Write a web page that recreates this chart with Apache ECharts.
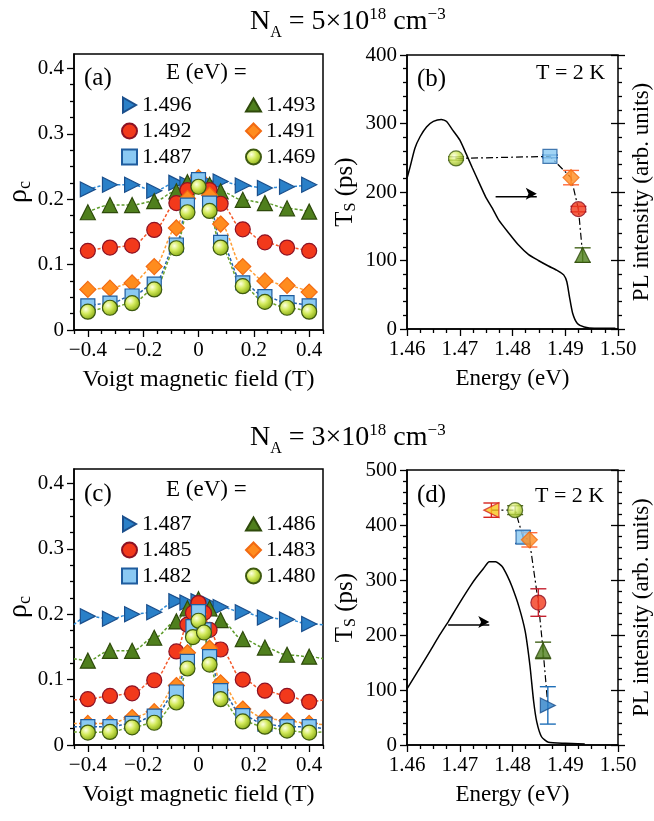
<!DOCTYPE html>
<html>
<head>
<meta charset="utf-8">
<script src="https://cdn.jsdelivr.net/npm/echarts@6/dist/echarts.min.js"></script>
<style>
  html, body { margin: 0; padding: 0; background: #fff; }
  #chart { width: 654px; height: 821px; }
</style>
</head>
<body>
<div id="chart"></div>
<script>
var FONT = 'Liberation Serif';

// ---- panel (a): rho_c vs Voigt field, N_A = 5e18 ----
var fieldA = [-0.4, -0.32, -0.24, -0.16, -0.08, -0.04, 0, 0.04, 0.08, 0.16, 0.24, 0.32, 0.4];
var namesA = ['1.496', '1.493', '1.492', '1.491', '1.487', '1.469'];
var rhoA_1496 = [0.215, 0.222, 0.222, 0.213, 0.225, 0.223, 0.225, 0.224, 0.227, 0.221, 0.217, 0.219, 0.222];
var rhoA_1493 = [0.180, 0.191, 0.191, 0.197, 0.212, 0.226, 0.228, 0.222, 0.212, 0.199, 0.194, 0.186, 0.181];
var rhoA_1492 = [0.121, 0.126, 0.129, 0.153, 0.194, 0.214, 0.220, 0.214, 0.193, 0.154, 0.134, 0.126, 0.121];
var rhoA_1491 = [0.062, 0.064, 0.072, 0.097, 0.156, 0.201, 0.233, 0.206, 0.162, 0.097, 0.075, 0.068, 0.058];
var rhoA_1487 = [0.037, 0.041, 0.052, 0.070, 0.130, 0.191, 0.230, 0.194, 0.134, 0.072, 0.051, 0.042, 0.037];
var rhoA_1469 = [0.028, 0.034, 0.041, 0.062, 0.125, 0.180, 0.219, 0.182, 0.126, 0.067, 0.043, 0.034, 0.028];

// ---- panel (c): rho_c vs Voigt field, N_A = 3e18 ----
var fieldC = [-0.4, -0.32, -0.24, -0.16, -0.08, -0.04, -0.02, 0, 0.02, 0.04, 0.08, 0.16, 0.24, 0.32, 0.4];
var namesC = ['1.487', '1.486', '1.485', '1.483', '1.482', '1.480'];
var rhoC_1487 = [0.197, 0.193, 0.200, 0.203, 0.220, 0.218, null, 0.220, null, 0.216, 0.211, 0.203, 0.195, 0.192, 0.185];
var rhoC_1486 = [0.129, 0.144, 0.144, 0.164, 0.189, 0.209, null, 0.223, null, 0.209, 0.191, 0.162, 0.149, 0.138, 0.135];
var rhoC_1485 = [0.070, 0.075, 0.079, 0.099, 0.143, 0.184, 0.202, 0.217, 0.202, 0.176, 0.146, 0.100, 0.083, 0.075, 0.066];
var rhoC_1483 = [0.033, 0.033, 0.042, 0.051, 0.091, 0.141, null, 0.200, null, 0.148, 0.095, 0.055, 0.041, 0.037, 0.033];
var rhoC_1482 = [0.028, 0.028, 0.033, 0.044, 0.081, 0.128, 0.181, 0.204, 0.176, 0.135, 0.083, 0.045, 0.032, 0.028, 0.028];
var rhoC_1480 = [0.019, 0.020, 0.027, 0.034, 0.065, 0.117, 0.165, 0.190, 0.172, 0.123, 0.070, 0.036, 0.028, 0.022, 0.019];
// fit curves continue to the frame edges in (c)
var fitEdgeC = [-0.45, 0.45];
var fitLeftC = [0.184, 0.132, 0.069, 0.033, 0.028, 0.020];
var fitRightC = [0.184, 0.132, 0.069, 0.031, 0.025, 0.020];

// ---- panel (b): spin time vs energy + PL ----
var energyB = [1.4693, 1.4871, 1.4911, 1.4925, 1.4933];
var tsB = [249, 252, 221, 175, 108];
var errB = [2.5, 2, 10.5, 4, 10.5];
var markB = ['ball', 'sq', 'diam', 'circ', 'tri'];
var plEnergyB = [1.46, 1.4606, 1.4615, 1.4625, 1.4637, 1.465, 1.4665, 1.4675, 1.4687, 1.47, 1.4712, 1.4724, 1.4737, 1.4749,
  1.4762, 1.4774, 1.4793, 1.4811, 1.483, 1.4849, 1.4868, 1.4886, 1.4897, 1.4903, 1.4908, 1.4914, 1.4923, 1.4936, 1.4955, 1.4995];
var plIntB = [220, 237, 264, 281, 295, 303, 306, 303, 290, 276, 256, 235, 213, 193,
  176, 159, 140, 123, 109, 100, 92, 85, 79, 69, 47, 23, 8, 3, 1, 1];

// ---- panel (d) ----
var energyD = [1.476, 1.4805, 1.482, 1.4832, 1.4849, 1.4858, 1.4867];
var tsD = [427, 427, 378, 373, 259, 172, 72];
var errD = [13, 8, 11.5, 13, 25, 15, 34];
var markD = ['ltri', 'ball', 'sq', 'diam', 'circ', 'tri', 'rtri'];
var plEnergyD = [1.46, 1.4625, 1.4644, 1.466, 1.4678, 1.4692, 1.4706, 1.472, 1.4731, 1.4745, 1.4756, 1.4768, 1.478, 1.479,
  1.4799, 1.4812, 1.4824, 1.4833, 1.484, 1.4846, 1.4855, 1.4868, 1.49, 1.4937];
var plIntD = [102, 141, 171, 197, 224, 246, 268, 289, 304, 321, 333, 333, 325, 308,
  288, 252, 207, 145, 80, 42, 15, 5, 3, 2];

// ---- ticks ----
var fieldTicks = [-0.4, -0.2, 0, 0.2, 0.4];
var fieldMinor = [-0.45, -0.35, -0.3, -0.25, -0.15, -0.1, -0.05, 0.05, 0.1, 0.15, 0.25, 0.3, 0.35, 0.45];
var rhoTicks = [0, 0.1, 0.2, 0.3, 0.4];
var rhoMinor = [0.025, 0.05, 0.075, 0.125, 0.15, 0.175, 0.225, 0.25, 0.275, 0.325, 0.35, 0.375];
var energyTicks = [1.46, 1.47, 1.48, 1.49, 1.50];
var energyMinor = [1.4625, 1.465, 1.4675, 1.4725, 1.475, 1.4775, 1.4825, 1.485, 1.4875, 1.4925, 1.495, 1.4975];
var tsTicksB = [0, 100, 200, 300, 400];
var tsTicksD = [0, 100, 200, 300, 400, 500];
var tsMinorB = [20, 40, 60, 80, 120, 140, 160, 180, 220, 240, 260, 280, 320, 340, 360, 380];
var tsMinorD = tsMinorB.concat([420, 440, 460, 480]);

// marker styles
var ball = {type: 'radial', x: 0.38, y: 0.35, r: 0.65, colorStops: [
  {offset: 0, color: '#fdffe2'}, {offset: 0.45, color: '#d3ea5c'}, {offset: 1, color: '#8aac16'}]};
var MARK = {
  rtri: {symbol: 'triangle', rot: -90, size: 15, fill: '#2a80c8', edge: '#1b4f8c', fit: '#2d8ad6', err: '#1f6fb8'},
  tri:  {symbol: 'triangle', rot: 0, size: 15, fill: '#4f7f1d', edge: '#2e4a0b', fit: '#5e9c2c', err: '#43631a'},
  circ: {symbol: 'circle', rot: 0, size: 15, fill: '#f2391b', edge: '#8c1224', fit: '#f4582a', err: '#c4202e'},
  diam: {symbol: 'diamond', rot: 0, size: 16, fill: '#ff8c1e', edge: '#f26a12', fit: '#ff9d34', err: '#ff6a3a'},
  sq:   {symbol: 'rect', rot: 0, size: 14, fill: '#8ac9f3', edge: '#1f5c9e', fit: '#2262ae', err: '#2262ae'},
  ball: {symbol: 'circle', rot: 0, size: 15, fill: ball, edge: '#3e5a10', fit: '#6ea42c', err: '#4a6418'},
  ltri: {symbol: 'triangle', rot: 90, size: 15, fill: '#f7c51d', edge: '#d6231f', err: '#d6231f'}
};
var marksAC = ['rtri', 'tri', 'circ', 'diam', 'sq', 'ball'];
var legendIcon = {
  rtri: 'path://M0,0L13,7.5L0,15Z', tri: 'path://M0,13L7.5,0L15,13Z', circ: 'circle',
  diam: 'diamond', sq: 'rect', ball: 'circle'
};

// ---- axes ----
var xAxes = [], yAxes = [];
function ax(gi, range, pos, ticks, len, inside, fmt) {
  var a = {
    type: 'value', gridIndex: gi, min: range[0], max: range[1], position: pos,
    splitLine: {show: false},
    axisLine: {show: !!fmt, onZero: false, lineStyle: {color: '#000', width: 1.5}},
    axisTick: {show: true, customValues: ticks, length: len, inside: !!inside, lineStyle: {color: '#000', width: 1.3}},
    axisLabel: {show: false}
  };
  if (fmt) {
    a.axisLabel = {show: true, customValues: ticks, formatter: fmt, margin: 10,
      color: '#000', fontFamily: FONT, fontSize: 21};
  }
  return a;
}
function nameStyle(size) {
  return {fontFamily: FONT, fontSize: size, color: '#000'};
}
var fmtField = function (v) { return v === 0 ? '0' : (v < 0 ? '\u2212' : '') + Math.abs(v).toFixed(1); };
var fmtRho = function (v) { return v === 0 ? '0' : v.toFixed(1); };
var fmtE = function (v) { return v.toFixed(2); };
var fmtTs = function (v) { return String(Math.round(v)); };

var rhoName = {
  name: '{r|\u03c1}{c|c}', nameLocation: 'middle', nameGap: 40,
  nameTextStyle: {rich: {
    r: {fontFamily: FONT, fontSize: 28, color: '#000', lineHeight: 30},
    c: {fontFamily: FONT, fontSize: 18, color: '#000', lineHeight: 18, verticalAlign: 'bottom', padding: [14, 0, 0, 0]}
  }}
};
var tsName = {
  name: '{t|T}{s|S}{t| (ps)}', nameLocation: 'middle', nameGap: 48,
  nameTextStyle: {rich: {
    t: {fontFamily: FONT, fontSize: 25, color: '#000', lineHeight: 28},
    s: {fontFamily: FONT, fontSize: 16, color: '#000', lineHeight: 16, verticalAlign: 'bottom', padding: [17, 0, 0, 0]}
  }}
};

// build axes for one rho panel
function rhoAxes(gi) {
  var xi = xAxes.length;
  xAxes.push(Object.assign(ax(gi, [-0.45, 0.45], 'bottom', fieldTicks, 7, false, fmtField),
    {name: 'Voigt magnetic field (T)', nameLocation: 'middle', nameGap: 38, nameTextStyle: nameStyle(24)}));
  xAxes.push(ax(gi, [-0.45, 0.45], 'bottom', fieldMinor, 4));
  var yi = yAxes.length;
  yAxes.push(Object.assign(ax(gi, [0, 0.422], 'left', rhoTicks, 7, false, fmtRho), rhoName));
  yAxes.push(ax(gi, [0, 0.422], 'left', rhoMinor, 4));
  return [xi, yi];
}
function tsAxes(gi, tmax, ticks, minor) {
  var xi = xAxes.length;
  xAxes.push(Object.assign(ax(gi, [1.46, 1.50], 'bottom', energyTicks, 7, false, fmtE),
    {name: 'Energy (eV)', nameLocation: 'middle', nameGap: 38, nameTextStyle: nameStyle(23)}));
  xAxes.push(ax(gi, [1.46, 1.50], 'bottom', energyMinor, 4));
  var yi = yAxes.length;
  yAxes.push(Object.assign(ax(gi, [0, tmax], 'left', ticks, 7, false, fmtTs), tsName));
  yAxes.push(ax(gi, [0, tmax], 'left', minor, 4));
  var yr = yAxes.length;
  yAxes.push(Object.assign(ax(gi, [0, tmax], 'right', ticks, 7, false), {
    name: 'PL intensity (arb. units)', nameLocation: 'middle', nameGap: 12, nameRotate: 90,
    nameTextStyle: nameStyle(23)}));
  yAxes.push(ax(gi, [0, tmax], 'right', minor, 4));
  yAxes.push(ax(gi, [0, tmax], 'right', ticks, 7, true));
  return [xi, yi, yr];
}

var aIdx = rhoAxes(0);
var bIdx = tsAxes(1, 400, tsTicksB, tsMinorB);
var cIdx = rhoAxes(2);
var dIdx = tsAxes(3, 500, tsTicksD, tsMinorD);

// ---- series ----
var series = [];
function rhoPanel(prefix, field, vals, idx, edges) {
  vals.forEach(function (arr, k) {
    var m = MARK[marksAC[k]];
    var pts = [];
    field.forEach(function (x, i) { if (arr[i] !== null) pts.push([x, arr[i]]); });
    var fit = pts.slice();
    if (edges) { fit.unshift([fitEdgeC[0], edges[0][k]]); fit.push([fitEdgeC[1], edges[1][k]]); }
    series.push({
      type: 'line', name: 'fit' + prefix + k, xAxisIndex: idx[0], yAxisIndex: idx[1],
      data: fit, smooth: 0.35, smoothMonotone: 'x', symbol: 'none', silent: true, z: 1,
      lineStyle: {color: m.fit, width: 1.5, type: [3, 2]}
    });
  });
  vals.forEach(function (arr, k) {
    var m = MARK[marksAC[k]];
    var pts = [];
    field.forEach(function (x, i) { if (arr[i] !== null) pts.push([x, arr[i]]); });
    series.push({
      type: 'scatter', name: prefix + (prefix === 'a' ? namesA[k] : namesC[k]),
      xAxisIndex: idx[0], yAxisIndex: idx[1], data: pts, z: 3,
      symbol: m.symbol, symbolRotate: m.rot, symbolSize: m.size,
      itemStyle: {color: m.fill, borderColor: m.edge, borderWidth: 1.2, opacity: 1}
    });
  });
}
rhoPanel('a', fieldA, [rhoA_1496, rhoA_1493, rhoA_1492, rhoA_1491, rhoA_1487, rhoA_1469], aIdx, null);
rhoPanel('c', fieldC, [rhoC_1487, rhoC_1486, rhoC_1485, rhoC_1483, rhoC_1482, rhoC_1480], cIdx, [fitLeftC, fitRightC]);

function errRender(params, api) {
  var x = api.value(0);
  var a = api.coord([x, api.value(1)]), b = api.coord([x, api.value(2)]);
  var w = 8, st = {stroke: api.visual('color'), lineWidth: 1.4, fill: null};
  return {type: 'group', children: [
    {type: 'line', shape: {x1: a[0], y1: a[1], x2: b[0], y2: b[1]}, style: st},
    {type: 'line', shape: {x1: a[0] - w, y1: a[1], x2: a[0] + w, y2: a[1]}, style: st},
    {type: 'line', shape: {x1: b[0] - w, y1: b[1], x2: b[0] + w, y2: b[1]}, style: st}
  ]};
}
function tsPanel(energy, ts, err, marks, plE, plI, idx, arrow) {
  series.push({
    type: 'line', xAxisIndex: idx[0], yAxisIndex: idx[2], data: plE.map(function (e, i) { return [e, plI[i]]; }),
    symbol: 'none', silent: true, z: 1, smooth: 0.2, lineStyle: {color: '#000', width: 1.5}
  });
  // arrow pointing to the PL axis
  series.push({
    type: 'line', xAxisIndex: idx[0], yAxisIndex: idx[2], silent: true, z: 1,
    lineStyle: {color: '#000', width: 1.5}, itemStyle: {color: '#000'},
    data: [
      {value: [arrow[0], arrow[2]], symbol: 'none'},
      {value: [arrow[1], arrow[2]], symbol: 'arrow', symbolRotate: -90, symbolSize: [9, 11], symbolOffset: [0, -3]}
    ]
  });
  series.push({
    type: 'line', xAxisIndex: idx[0], yAxisIndex: idx[1], data: energy.map(function (e, i) { return [e, ts[i]]; }),
    symbol: 'none', silent: true, z: 2, lineStyle: {color: '#000', width: 1.2, type: [7, 3, 2, 3]}
  });
  series.push({
    type: 'custom', xAxisIndex: idx[0], yAxisIndex: idx[1], silent: true, z: 3, renderItem: errRender,
    data: energy.map(function (e, i) {
      return {value: [e, ts[i] - err[i], ts[i] + err[i]], itemStyle: {color: MARK[marks[i]].err}};
    })
  });
  series.push({
    type: 'scatter', xAxisIndex: idx[0], yAxisIndex: idx[1], z: 4,
    data: energy.map(function (e, i) {
      var m = MARK[marks[i]];
      return {value: [e, ts[i]], symbol: m.symbol, symbolRotate: m.rot, symbolSize: m.size,
        itemStyle: {color: m.fill, borderColor: m.edge, borderWidth: 1.2}};
    })
  });
}
tsPanel(energyB, tsB, errB, markB, plEnergyB, plIntB, bIdx, [1.4768, 1.4846, 193]);
tsPanel(energyD, tsD, errD, markD, plEnergyD, plIntD, dIdx, [1.4678, 1.4756, 218]);

// ---- texts ----
var richTitle = {
  n: {fontFamily: FONT, fontSize: 28, fontWeight: 'normal', color: '#000', lineHeight: 40},
  sub: {fontFamily: FONT, fontSize: 16, fontWeight: 'normal', color: '#000', lineHeight: 16, verticalAlign: 'top', padding: [23, 0, 0, 0]},
  sup: {fontFamily: FONT, fontSize: 17, fontWeight: 'normal', color: '#000', lineHeight: 17, verticalAlign: 'top', padding: [4, 0, 0, 0]}
};
function txt(s, left, top, size) {
  return {text: s, left: left, top: top, padding: 0,
    textStyle: {fontFamily: FONT, fontSize: size, fontWeight: 'normal', color: '#000'}};
}
var titles = [
  {text: '{n|N}{sub|A}{n| = 5\u00d710}{sup|18}{n| cm}{sup|\u22123}', left: 250, top: 2, padding: 0,
    textStyle: {fontWeight: 'normal', rich: richTitle}},
  {text: '{n|N}{sub|A}{n| = 3\u00d710}{sup|18}{n| cm}{sup|\u22123}', left: 250, top: 418, padding: 0,
    textStyle: {fontWeight: 'normal', rich: richTitle}},
  txt('(a)', 84, 66, 25), txt('E (eV) =', 166, 61, 23),
  txt('(b)', 417, 67, 25), txt('T = 2 K', 536, 62, 22),
  txt('(c)', 84, 482, 25), txt('E (eV) =', 166, 478, 23),
  txt('(d)', 417, 483, 25), txt('T = 2 K', 535, 485, 22)
];

function legend(prefix, names, top) {
  return {
    data: names.map(function (n, k) { return {name: prefix + n, icon: legendIcon[marksAC[k]]}; }),
    formatter: function (n) { return n.slice(1); },
    left: 116, top: top, width: 260, itemWidth: 15, itemHeight: 15, itemGap: 4,
    selectedMode: false,
    textStyle: {fontFamily: FONT, fontSize: 22, color: '#000', width: 99, lineHeight: 22}
  };
}

var gridStyle = {show: true, borderColor: '#000', borderWidth: 1.5, backgroundColor: 'transparent'};
var option = {
  animation: false,
  backgroundColor: '#fff',
  title: titles,
  legend: [legend('a', namesA, 89), legend('c', namesC, 508)],
  grid: [
    Object.assign({left: 74, top: 54, width: 249, height: 276}, gridStyle),
    Object.assign({left: 407, top: 55, width: 214, height: 274}, gridStyle),
    Object.assign({left: 74, top: 469, width: 249, height: 276}, gridStyle),
    Object.assign({left: 407, top: 470, width: 214, height: 275}, gridStyle)
  ],
  xAxis: xAxes,
  yAxis: yAxes,
  series: series
};

var chart = echarts.init(document.getElementById('chart'), null, {renderer: 'canvas'});
chart.setOption(option);
</script>
</body>
</html>
